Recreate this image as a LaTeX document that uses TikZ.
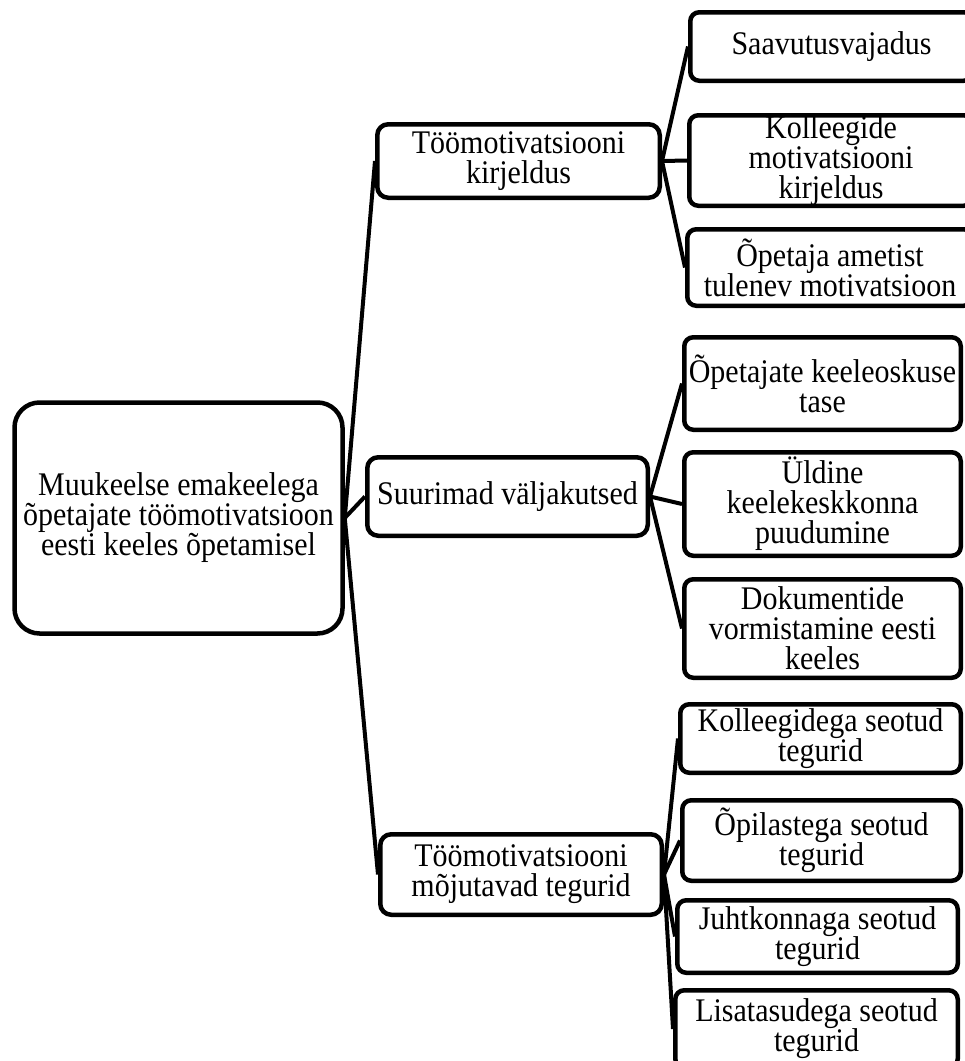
\documentclass[tikz,border=0pt]{standalone}
\usepackage{graphicx}
\usepackage{fontspec}
\setmainfont{Liberation Serif}
\usetikzlibrary{backgrounds}
\newcommand\tx[1]{\scalebox{1}[1.1]{\vbox{\baselineskip=27.3pt\lineskiplimit=-100pt\lineskip=0pt\halign{\hfil##\hfil\cr#1\crcr}}}}
\tikzset{
  box/.style={draw, line width=4.5pt, rounded corners=9pt, fill=white,
    inner sep=0pt, font=\fontsize{30}{30}\selectfont},
  conn/.style={line width=4pt}
}
\begin{document}
\begin{tikzpicture}[x=1pt,y=-1pt]
\useasboundingbox (0,0) rectangle (965,1061);
\clip (0,0) rectangle (965,1061);
% root
\node[box, rounded corners=25pt, minimum width=328pt, minimum height=231pt] (root) at (178.5,518)
  {\tx{Muukeelse emakeelega\cr õpetajate töömotivatsioon\cr eesti keeles õpetamisel}};
% level 1
\node[box, rounded corners=11pt, minimum width=282.5pt, minimum height=73.5pt] (la) at (518.5,161)
  {\tx{Töömotivatsiooni\cr kirjeldus}};
\node[box, rounded corners=11pt, minimum width=280.5pt, minimum height=78.5pt] (lb) at (507.5,496.5)
  {\tx{Suurimad väljakutsed}};
\node[box, rounded corners=11pt, minimum width=281.5pt, minimum height=80.5pt] (lc) at (521,874.5)
  {\tx{Töömotivatsiooni\cr mõjutavad tegurid}};
% level 2, group a
\node[box, minimum width=282.5pt, minimum height=68.5pt] (a1) at (831.5,46.5) {\tx{Saavutusvajadus}};
\node[box, minimum width=283.5pt, minimum height=90.5pt] (a2) at (831,160.5)
  {\tx{Kolleegide\cr motivatsiooni\cr kirjeldus}};
\node[box, minimum width=285.5pt, minimum height=76.5pt] (a3) at (830,267.5)
  {\tx{Õpetaja ametist\cr tulenev motivatsioon}};
% group b
\node[box, minimum width=276.5pt, minimum height=92.5pt] (b1) at (822.5,383.5)
  {\tx{Õpetajate keeleoskuse\cr tase}};
\node[box, minimum width=276.5pt, minimum height=103.5pt] (b2) at (822.5,504)
  {\tx{Üldine\cr keelekeskkonna\cr puudumine}};
\node[box, minimum width=276.5pt, minimum height=98.5pt] (b3) at (822.5,628.5)
  {\tx{Dokumentide\cr vormistamine eesti\cr keeles}};
% group c
\node[box, minimum width=280.5pt, minimum height=68.5pt] (c1) at (820.5,738.5)
  {\tx{Kolleegidega seotud\cr tegurid}};
\node[box, minimum width=278.5pt, minimum height=80.5pt] (c2) at (821.5,840.5)
  {\tx{Õpilastega seotud\cr tegurid}};
\node[box, minimum width=280.5pt, minimum height=72.5pt] (c3) at (817.5,936.5)
  {\tx{Juhtkonnaga seotud\cr tegurid}};
\node[box, minimum width=282.5pt, minimum height=77.5pt] (c4) at (816.5,1029)
  {\tx{Lisatasudega seotud\cr tegurid}};
\begin{pgfonlayer}{background}
\fill[white] (0,0) rectangle (965,1061);
\draw[conn] (root.east) -- (la.west);
\draw[conn] (root.east) -- (lb.west);
\draw[conn] (root.east) -- (lc.west);
\draw[conn] (la.east) -- (a1.west);
\draw[conn] (la.east) -- (a2.west);
\draw[conn] (la.east) -- (a3.west);
\draw[conn] (lb.east) -- (b1.west);
\draw[conn] (lb.east) -- (b2.west);
\draw[conn] (lb.east) -- (b3.west);
\draw[conn] (lc.east) -- (c1.west);
\draw[conn] (lc.east) -- (c2.west);
\draw[conn] (lc.east) -- (c3.west);
\draw[conn] (lc.east) -- (c4.west);
\end{pgfonlayer}
\end{tikzpicture}
\end{document}
